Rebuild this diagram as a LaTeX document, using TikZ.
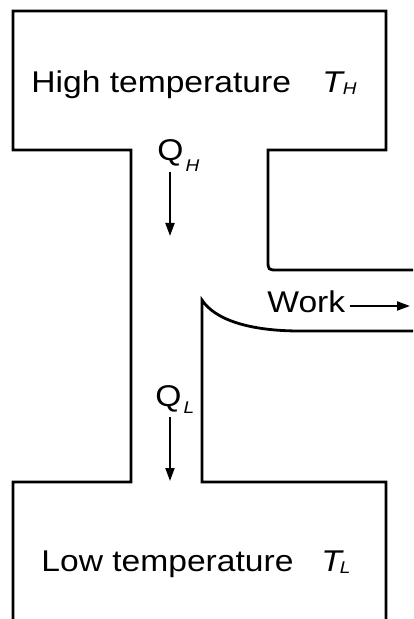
\documentclass[tikz,border=0pt]{standalone}
\usepackage{fontspec}
\setmainfont{Liberation Sans}[FakeStretch=1.12]
\usetikzlibrary{arrows.meta}
\newcommand{\mainsize}{\fontsize{15}{18}\selectfont}
\newcommand{\subsize}{\fontsize{8.5}{10}\selectfont}
\tikzset{
  wall/.style={line width=1.4pt},
  flow/.style={line width=1pt,-{Triangle[length=6.5pt,width=4.5pt]}},
  lbl/.style={inner sep=0pt,anchor=base west,font=\mainsize},
}

\begin{document}
\begin{tikzpicture}[x=0.5pt,y=-0.5pt]
  \useasboundingbox (0,0) rectangle (413,619);

  % Upper reservoir, left wall and work outlet
  \draw[wall] (413,270) -- (278,270) .. controls (268,270) .. (268,260)
    -- (268,150) -- (386,150) -- (386,11) -- (13,11) -- (13,150)
    -- (131,150) -- (131,482) -- (13,482) -- (13,622);
  % Lower reservoir and right wall
  \draw[wall] (413,331) -- (300,331) .. controls (250,331) and (215,320) .. (202,300)
    -- (202,482) -- (386,482) -- (386,622);

  % Reservoir labels
  \node[lbl] (hot) at (31,93) {High temperature};
  \node[lbl] (th) at (322,93) {\textit{T}\hspace{-1pt}\raisebox{-1pt}{\subsize\textit{H}}};
  \node[lbl] (cold) at (41,571) {Low temperature};
  \node[lbl] (tl) at (321,571) {\textit{T}\hspace{-2pt}\raisebox{-1pt}{\subsize\textit{L}}};

  % Heat flows
  \node[lbl] (qh) at (157,161) {Q\hspace{1pt}\raisebox{-5.5pt}{\subsize\textit{H}}};
  \coordinate (qhtop) at (170,172);
  \coordinate (qhend) at (170,236);
  \draw[flow] (qhtop) -- (qhend);

  \node[lbl] (ql) at (155,406) {Q\hspace{1pt}\raisebox{-3.5pt}{\subsize\textit{L}}};
  \coordinate (qltop) at (170,417);
  \coordinate (qlend) at (170,481);
  \draw[flow] (qltop) -- (qlend);

  % Work output
  \node[lbl] (work) at (267,313) {Work};
  \coordinate (wout) at (410,306);
  \draw[flow] ([xshift=2pt,yshift=3.5pt]work.base east) -- (wout);
\end{tikzpicture}
\end{document}
